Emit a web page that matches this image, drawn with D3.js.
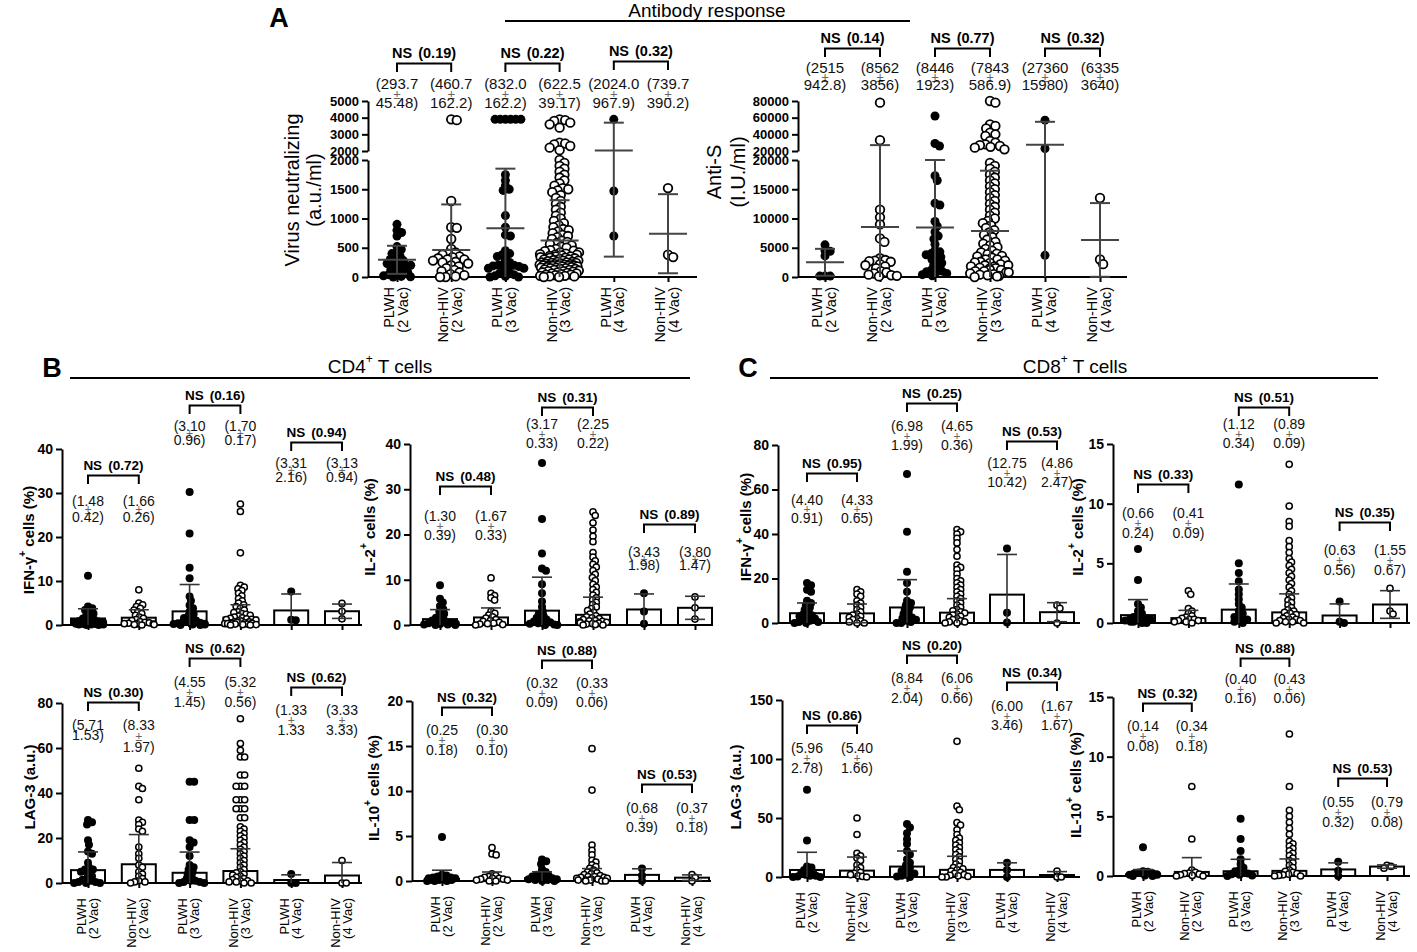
<!DOCTYPE html>
<html lang="en">
<head>
<meta charset="UTF-8">
<title>Antibody and T cell responses</title>
<style>
  body { margin: 0; background: #fff; }
  svg { font-family: "Liberation Sans", Arial, sans-serif; }
</style>
</head>
<body>
<div id="fig"></div>
<script src="https://d3js.org/d3.v7.min.js"></script>
<script>
var groups = [["PLWH", "(2 Vac)"], ["Non-HIV", "(2 Vac)"], ["PLWH", "(3 Vac)"],
              ["Non-HIV", "(3 Vac)"], ["PLWH", "(4 Vac)"], ["Non-HIV", "(4 Vac)"]];
var filled = [true, false, true, false, true, false];

// ---- A: virus neutralizing (a.u./ml)
var neutMeans = [293.7, 460.7, 832.0, 622.5, 2024.0, 739.7];
var neutSd = [240, 780, 1020, 690, 1676, 676];
var neutP = ["0.19", "0.22", "0.32"];
var neutL1 = ["(293.7", "(460.7", "(832.0", "(622.5", "(2024.0", "(739.7"];
var neutL2 = ["45.48)", "162.2)", "162.2)", "39.17)", "967.9)", "390.2)"];
var neutPts = [
  [900, 800, 760, 700, 520, 470, 420, 400, 350, 330, 300, 280, 250, 230, 220, 200, 200, 180, 150, 120, 100, 80, 60, 40, 20, 10, 5, 0],
  [3900, 3850, 1300, 850, 840, 650, 480, 420, 400, 380, 350, 340, 320, 300, 300, 280, 260, 250, 230, 200, 180, 150, 120, 100, 80, 50, 30, 10, 0, 0],
  [3900, 3900, 3900, 3900, 3900, 3900, 1750, 1650, 1560, 1500, 1480, 1050, 850, 720, 700, 450, 400, 380, 350, 300, 250, 220, 200, 200, 190, 180, 170, 150, 150, 100, 80, 60, 40, 20, 10, 0, 0],
  [3900, 3850, 3800, 3700, 3600, 3400, 2500, 2450, 2400, 2300, 2200, 2050, 2000, 1950, 1900, 1850, 1800, 1750, 1700, 1650, 1600, 1560, 1520, 1500, 1480, 1450, 1400, 1350, 1300, 1250, 1200, 1150, 1100, 1050, 1000, 960, 920, 880, 850, 820, 800, 780, 750, 720, 700, 680, 650, 620, 600, 580, 560, 540, 520, 500, 480, 460, 450, 440, 420, 400, 390, 380, 370, 360, 350, 340, 330, 320, 310, 300, 290, 280, 270, 260, 250, 240, 230, 220, 210, 200, 200, 190, 180, 170, 160, 150, 140, 130, 120, 110, 100, 90, 80, 70, 60, 50, 40, 30, 20, 10, 0,
   420, 380, 350, 330, 300, 280, 260, 250, 240, 230, 220, 210, 200, 200, 190, 180, 170, 160, 150, 140, 120, 100, 80, 60, 40, 20, 10, 0],
  [3900, 1470, 700],
  [1520, 380, 340]
];

// ---- A: anti-S (I.U./ml)
var antiMeans = [2515, 8562, 8446, 7843, 27360, 6335];
var antiSd = [2300, 18500, 11550, 10330, 27680, 6300];
var antiP = ["0.14", "0.77", "0.32"];
var antiL1 = ["(2515", "(8562", "(8446", "(7843", "(27360", "(6335"];
var antiL2 = ["942.8)", "3856)", "1923)", "586.9)", "15980)", "3640)"];
var antiPts = [
  [5500, 4500, 4400, 3600, 150, 150, 150],
  [78000, 33000, 11500, 10200, 9000, 6600, 6000, 3200, 2900, 2800, 2700, 2600, 2200, 2000, 1800, 1500, 1000, 800, 600, 400, 300, 200, 100],
  [62000, 29000, 26000, 17300, 16500, 12600, 12300, 9500, 8700, 7700, 7000, 6500, 5600, 4600, 4300, 4000, 3800, 3600, 3400, 3000, 2700, 2400, 2000, 1600, 1200, 1000, 900, 800, 600, 400, 200],
  [80000, 78000, 52000, 50000, 47000, 42000, 40000, 38000, 32000, 30000, 28000, 27000, 26000, 25000, 24000, 22000, 19500, 19000, 18500, 18000, 17500, 17000, 16500, 16000, 15500, 15000, 14500, 14000, 13500, 13000, 12500, 12000, 11500, 11000, 10500, 10000, 9600, 9200, 8800, 8400, 8000, 7600, 7200, 6800, 6400, 6000, 5700, 5400, 5100, 4800, 4500, 4200, 3900, 3600, 3300, 3000, 2800, 2600, 2400, 2200, 2000, 1800, 1600, 1400, 1200, 1000, 800, 600, 400, 200, 100, 0,
   4000, 3500, 3000, 2500, 2000, 1800, 1500, 1200, 1000, 800, 500, 300],
  [57000, 23000, 3700],
  [13500, 3000, 2200]
];

// ---- B: CD4+ IFN-gamma (%)
var ifn4Means = [1.48, 1.66, 3.10, 1.70, 3.31, 3.13];
var ifn4Sd = [2.2, 1.8, 6.1, 2.9, 3.74, 1.63];
var ifn4P = ["0.72", "0.16", "0.94"];
var ifn4L1 = ["(1.48", "(1.66", "(3.10", "(1.70", "(3.31", "(3.13"];
var ifn4L2 = ["0.42)", "0.26)", "0.96)", "0.17)", "2.16)", "0.94)"];
var ifn4Pts = [
  [11.2, 4.2, 3.8, 3.4, 3.0, 2.6, 2.2, 1.8, 1.5, 1.2, 1.0, 0.9, 0.8, 0.7, 0.6, 0.5, 0.4, 0.3, 0.3, 0.2, 0.2, 0.1, 0.1, 0.1, 0.0, 0.0],
  [8.0, 5.0, 4.6, 4.2, 3.8, 3.4, 3.0, 2.6, 2.2, 1.8, 1.5, 1.2, 1.0, 0.8, 0.6, 0.5, 0.4, 0.3, 0.2, 0.2, 0.1, 0.1, 0.0],
  [30.2, 20.8, 13.0, 10.6, 6.5, 5.5, 4.5, 3.8, 3.0, 2.5, 2.0, 1.6, 1.3, 1.0, 0.8, 0.6, 0.5, 0.4, 0.3, 0.2, 0.2, 0.1, 0.1, 0.0, 0.0],
  [27.5, 25.8, 16.4, 9.0, 8.6, 8.2, 7.8, 7.2, 6.6, 6.0, 5.5, 5.0, 4.6, 4.2, 3.8, 3.4, 3.0, 2.8, 2.6, 2.4, 2.2, 2.0, 1.8, 1.6, 1.5, 1.4, 1.3, 1.2, 1.1, 1.0, 0.9, 0.8, 0.7, 0.6, 0.5, 0.5, 0.4, 0.4, 0.3, 0.3, 0.2, 0.2, 0.1, 0.1, 0.0, 0.0],
  [7.6, 1.2, 1.1],
  [4.9, 3.1, 1.4]
];

// ---- B: CD4+ IL-2 (%)
var il24Means = [1.30, 1.67, 3.17, 2.25, 3.43, 3.80];
var il24Sd = [2.1, 2.1, 7.4, 3.9, 3.43, 2.55];
var il24P = ["0.48", "0.31", "0.89"];
var il24L1 = ["(1.30", "(1.67", "(3.17", "(2.25", "(3.43", "(3.80"];
var il24L2 = ["0.39)", "0.33)", "0.33)", "0.22)", "1.98)", "1.47)"];
var il24Pts = [
  [8.8, 5.8, 5.0, 4.2, 3.5, 3.0, 2.5, 2.0, 1.6, 1.3, 1.0, 0.8, 0.6, 0.5, 0.4, 0.3, 0.2, 0.2, 0.1, 0.1, 0.0, 0.0],
  [10.4, 7.0, 6.5, 6.0, 5.5, 3.0, 2.6, 2.2, 1.8, 1.5, 1.2, 1.0, 0.8, 0.6, 0.4, 0.3, 0.2, 0.1, 0.0],
  [35.8, 23.4, 15.8, 12.5, 12.0, 9.0, 7.0, 5.2, 4.0, 3.0, 2.5, 2.0, 1.6, 1.2, 1.0, 0.8, 0.6, 0.4, 0.3, 0.2, 0.1, 0.0, 0.0],
  [25.0, 24.2, 22.6, 21.0, 19.6, 18.4, 16.0, 15.0, 14.2, 13.4, 12.8, 12.0, 11.2, 10.5, 9.8, 9.0, 8.4, 7.8, 7.2, 6.6, 6.0, 5.5, 5.0, 4.5, 4.0, 3.6, 3.2, 2.8, 2.4, 2.0, 1.8, 1.6, 1.4, 1.2, 1.0, 0.9, 0.8, 0.7, 0.6, 0.5, 0.4, 0.3, 0.2, 0.1, 0.0, 0.0],
  [7.0, 3.0, 0.3],
  [6.2, 3.8, 1.3]
];

// ---- B: CD4+ LAG-3 (a.u.)
var lag4Means = [5.71, 8.33, 4.55, 5.32, 1.33, 3.33];
var lag4Sd = [8.1, 13.2, 9.2, 9.9, 2.3, 5.77];
var lag4P = ["0.30", "0.62", "0.62"];
var lag4L1 = ["(5.71", "(8.33", "(4.55", "(5.32", "(1.33", "(3.33"];
var lag4L2 = ["1.53)", "1.97)", "1.45)", "0.56)", "1.33", "3.33)"];
var lag4Pts = [
  [28, 27, 26, 19, 17, 14, 13, 9, 7, 6, 6, 5, 4, 3, 2, 1.5, 1, 0.5, 0.5, 0, 0, 0],
  [51, 43, 42, 37, 28, 27, 26, 24, 23, 16, 13, 11, 8, 7, 5, 4, 3, 2, 1, 0.5, 0.5, 0],
  [45, 45, 28, 28, 19, 18, 16, 12, 8, 7, 6, 5, 4, 3, 2, 1, 1, 0.5, 0.5, 0, 0],
  [73, 62, 59, 56, 56, 48, 48, 43, 43, 43, 37, 37, 37, 33, 33, 33, 29, 29, 25, 24, 23, 22, 21, 20, 19, 18, 17, 16, 15, 14, 13, 12, 11, 10, 9, 8, 7, 6, 5, 4.5, 4, 3.5, 3, 2.5, 2, 1.5, 1, 1, 0.5, 0.5, 0, 0],
  [4, 0, 0],
  [10, 0, 0]
];

// ---- B: CD4+ IL-10 (%)
var il104Means = [0.25, 0.30, 0.32, 0.33, 0.68, 0.37];
var il104Sd = [0.95, 0.7, 0.7, 1.05, 0.68, 0.31];
var il104P = ["0.32", "0.88", "0.53"];
var il104L1 = ["(0.25", "(0.30", "(0.32", "(0.33", "(0.68", "(0.37"];
var il104L2 = ["0.18)", "0.10)", "0.09)", "0.06)", "0.39)", "0.18)"];
var il104Pts = [
  [4.9, 0.7, 0.6, 0.5, 0.4, 0.4, 0.3, 0.3, 0.2, 0.2, 0.1, 0.1, 0.1, 0.0, 0.0, 0.0],
  [3.7, 3.0, 2.9, 0.8, 0.6, 0.5, 0.4, 0.3, 0.3, 0.2, 0.2, 0.1, 0.1, 0.0, 0.0],
  [2.4, 2.2, 1.9, 1.3, 1.0, 0.8, 0.7, 0.6, 0.5, 0.4, 0.3, 0.3, 0.2, 0.2, 0.1, 0.1, 0.0, 0.0],
  [14.7, 10.1, 4.0, 3.4, 2.9, 2.3, 2.1, 1.8, 1.6, 1.4, 1.2, 1.0, 0.9, 0.8, 0.7, 0.6, 0.5, 0.5, 0.4, 0.4, 0.3, 0.3, 0.2, 0.2, 0.1, 0.1, 0.1, 0.0, 0.0, 0.0],
  [1.4, 0.6, 0.04],
  [0.7, 0.4, 0.0]
];

// ---- C: CD8+ IFN-gamma (%)
var ifn8Means = [4.40, 4.33, 6.98, 4.65, 12.75, 4.86];
var ifn8Sd = [4.6, 4.2, 12.5, 6.3, 18.05, 4.28];
var ifn8P = ["0.95", "0.25", "0.53"];
var ifn8L1 = ["(4.40", "(4.33", "(6.98", "(4.65", "(12.75", "(4.86"];
var ifn8L2 = ["0.91)", "0.65)", "1.99)", "0.36)", "10.42)", "2.47)"];
var ifn8Pts = [
  [18, 17, 15, 14, 10, 9, 8, 7, 6, 5, 4, 3.5, 3, 2.5, 2, 1.5, 1, 0.5, 0.5, 0, 0],
  [15, 14, 13, 12, 10, 9, 8, 7, 6, 5, 4, 3.5, 3, 2.5, 2, 1.5, 1, 0.5, 0, 0],
  [67, 41, 23, 18, 14, 10, 9, 8, 7, 6, 5, 4, 3, 2.5, 2, 1.5, 1, 0.5, 0, 0],
  [42, 41, 40, 38, 36, 33, 30, 26, 25, 24, 22, 20, 19, 18, 17, 16, 15, 14, 13, 12, 11, 10, 9, 8, 7, 6, 5.5, 5, 4.5, 4, 3.5, 3, 2.5, 2, 1.5, 1, 0.5, 0.5, 0, 0],
  [33.5, 4.6, 0.2],
  [8.0, 6.6, 0.0]
];

// ---- C: CD8+ IL-2 (%)
var il28Means = [0.66, 0.41, 1.12, 0.89, 0.63, 1.55];
var il28Sd = [1.3, 0.65, 2.15, 1.55, 0.97, 1.16];
var il28P = ["0.33", "0.51", "0.35"];
var il28L1 = ["(0.66", "(0.41", "(1.12", "(0.89", "(0.63", "(1.55"];
var il28L2 = ["0.24)", "0.09)", "0.34)", "0.09)", "0.56)", "0.67)"];
var il28Pts = [
  [6.2, 3.6, 1.6, 1.3, 1.0, 0.8, 0.6, 0.5, 0.4, 0.4, 0.3, 0.3, 0.2, 0.2, 0.1, 0.1, 0.0, 0.0],
  [2.7, 2.4, 1.2, 1.0, 0.8, 0.6, 0.5, 0.4, 0.3, 0.3, 0.2, 0.2, 0.1, 0.1, 0.0],
  [11.6, 5.0, 4.2, 3.5, 2.8, 2.4, 2.0, 1.6, 1.3, 1.0, 0.8, 0.6, 0.5, 0.4, 0.3, 0.2, 0.1, 0.0],
  [13.3, 9.8, 8.5, 8.1, 6.9, 6.4, 5.9, 5.4, 5.1, 4.8, 4.5, 4.2, 3.9, 3.6, 3.3, 3.0, 2.7, 2.4, 2.1, 1.9, 1.7, 1.5, 1.3, 1.1, 1.0, 0.9, 0.8, 0.7, 0.6, 0.5, 0.4, 0.3, 0.3, 0.2, 0.2, 0.1, 0.1, 0.0, 0.0],
  [1.8, 0.1, 0.0],
  [2.9, 1.0, 0.75]
];

// ---- C: CD8+ LAG-3 (a.u.)
var lag8Means = [5.96, 5.40, 8.84, 6.06, 6.00, 1.67];
var lag8Sd = [15, 11.5, 13.2, 11.5, 6.0, 2.9];
var lag8P = ["0.86", "0.20", "0.34"];
var lag8L1 = ["(5.96", "(5.40", "(8.84", "(6.06", "(6.00", "(1.67"];
var lag8L2 = ["2.78)", "1.66)", "2.04)", "0.66)", "3.46)", "1.67)"];
var lag8Pts = [
  [74, 31, 9, 8, 6, 5, 4, 3, 2, 1, 1, 0.5, 0, 0],
  [50, 36, 20, 18, 16, 14, 10, 8, 6, 4, 3, 2, 1, 0.5, 0],
  [45, 42, 37, 32, 28, 22, 19, 15, 12, 10, 8, 6, 5, 4, 3, 2, 1, 0.5, 0],
  [115, 60, 57, 46, 44, 40, 36, 33, 31, 29, 27, 25, 23, 21, 19, 17, 15, 13, 11, 9, 8, 7, 6, 5, 4, 3, 2, 1.5, 1, 0.5, 0, 0],
  [12, 6, 0],
  [5, 0, 0]
];

// ---- C: CD8+ IL-10 (%)
var il108Means = [0.14, 0.34, 0.40, 0.43, 0.55, 0.79];
var il108Sd = [0.4, 1.2, 1.0, 1.0, 0.55, 0.14];
var il108P = ["0.32", "0.88", "0.53"];
var il108L1 = ["(0.14", "(0.34", "(0.40", "(0.43", "(0.55", "(0.79"];
var il108L2 = ["0.08)", "0.18)", "0.16)", "0.06)", "0.32)", "0.08)"];
var il108Pts = [
  [2.4, 0.4, 0.35, 0.3, 0.25, 0.2, 0.15, 0.1, 0.1, 0.05, 0.0, 0.0],
  [7.5, 3.1, 0.5, 0.3, 0.25, 0.2, 0.15, 0.1, 0.05, 0.0, 0.0],
  [4.8, 3.1, 2.1, 1.4, 1.0, 0.7, 0.5, 0.4, 0.3, 0.2, 0.15, 0.1, 0.05, 0.0],
  [11.9, 7.5, 5.5, 5.0, 4.5, 4.0, 3.5, 2.9, 2.7, 2.5, 2.3, 2.1, 1.9, 1.7, 1.5, 1.3, 1.1, 0.9, 0.7, 0.5, 0.4, 0.3, 0.2, 0.15, 0.1, 0.05, 0.0, 0.0],
  [1.2, 0.45, 0.0],
  [0.9, 0.8, 0.65]
];

var svg = d3.select('#fig').append('svg')
    .attr('width', 1417).attr('height', 952);

// y scale with a break: 0..brk on the lower segment, brk..max above the gap
function brokenScale(brk, max, base, brkLo, brkHi, top) {
    var lo = d3.scaleLinear().domain([0, brk]).range([base, brkLo]);
    var hi = d3.scaleLinear().domain([brk, max]).range([brkHi, top]);
    var f = function(v) { return v <= brk ? lo(v) : hi(v); };
    f.lo = lo; f.hi = hi;
    return f;
}

// simple beeswarm: nearest free horizontal slot inside the column
function swarm(vals, y, r, hw) {
    var d = r * 1.15;
    var order = vals.map(function(v) { return {v: v, py: y(v)}; })
        .sort(function(a, b) { return a.py - b.py; });
    var placed = [];
    order.forEach(function(p, k) {
        var cands = [0];
        placed.forEach(function(q) {
            var dy = Math.abs(q.py - p.py);
            if (dy < d) {
                var dx = Math.sqrt(d * d - dy * dy);
                cands.push(q.dx + dx, q.dx - dx);
            }
        });
        cands.sort(function(a, b) { return Math.abs(a) - Math.abs(b); });
        var best = null;
        for (var j = 0; j < cands.length; j++) {
            var c = cands[j];
            if (Math.abs(c) > hw) continue;
            var ok = placed.every(function(q) {
                var ddx = q.dx - c, ddy = q.py - p.py;
                return ddx * ddx + ddy * ddy >= d * d - 0.01;
            });
            if (ok) { best = c; break; }
        }
        if (best === null) best = ((k * 0.618) % 1 * 2 - 1) * hw;
        p.dx = best;
        placed.push(p);
    });
    return order;
}

function styleAxis(g, size) {
    g.select('.domain').attr('stroke', '#000').attr('stroke-width', 2);
    g.selectAll('.tick line').attr('stroke', '#000').attr('stroke-width', 2);
    g.selectAll('.tick text').attr('font-size', size).attr('font-weight', 'bold')
        .attr('fill', '#000').attr('font-family', '"Liberation Sans", Arial, sans-serif');
}

var fmt = d3.format('d');

function drawPanel(c) {
    var g = svg.append('g');
    var big = c.big;
    var x = d3.scalePoint().domain(d3.range(6)).range([c.c0, c.c1]);
    var y = c.y;
    var base = y(0);
    var tickSize = big ? 13 : 14;

    // y axis
    if (y.lo) {
        var gl = g.append('g').attr('transform', 'translate(' + c.x0 + ',0)')
            .call(d3.axisLeft(y.lo).tickValues(c.ticksLo).tickFormat(fmt).tickSize(6).tickSizeOuter(0).tickPadding(3));
        styleAxis(gl, tickSize);
        var gh = g.append('g').attr('transform', 'translate(' + c.x0 + ',0)')
            .call(d3.axisLeft(y.hi).tickValues(c.ticksHi).tickFormat(fmt).tickSize(6).tickSizeOuter(0).tickPadding(3));
        styleAxis(gh, tickSize);
    } else {
        var ga = g.append('g').attr('transform', 'translate(' + c.x0 + ',0)')
            .call(d3.axisLeft(y).tickValues(c.ticks).tickFormat(fmt).tickSize(6).tickSizeOuter(0).tickPadding(3));
        styleAxis(ga, tickSize);
    }

    // x axis
    var gx = g.append('g').attr('transform', 'translate(0,' + base + ')')
        .call(d3.axisBottom(x).tickSize(5).tickSizeOuter(0).tickFormat(''));
    gx.select('.domain').remove();
    styleAxis(gx, tickSize);
    g.append('line').attr('x1', c.x0).attr('x2', c.x1).attr('y1', base).attr('y2', base)
        .attr('stroke', '#000').attr('stroke-width', 2);

    // bars
    if (!big) {
        g.selectAll('rect.bar').data(c.means).enter().append('rect')
            .attr('x', function(d, i) { return x(i) - 17; })
            .attr('width', 34)
            .attr('y', function(d) { return y(d); })
            .attr('height', function(d) { return base - y(d); })
            .attr('fill', '#fff').attr('stroke', '#000').attr('stroke-width', 2);
    }

    // points
    var r = big ? 4.5 : 4;
    var ro = big ? 4.3 : 3.1;
    c.pts.forEach(function(vals, i) {
        var sw = swarm(vals, y, filled[i] ? r : ro + 0.6, big ? 20 : 16);
        g.append('g').selectAll('circle').data(sw).enter().append('circle')
            .attr('cx', function(d) { return x(i) + d.dx; })
            .attr('cy', function(d) { return d.py; })
            .attr('r', filled[i] ? r : ro)
            .attr('fill', filled[i] ? '#000' : '#fff')
            .attr('stroke', '#000')
            .attr('stroke-width', filled[i] ? 0 : (big ? 1.8 : 1.5));
    });

    // mean and SD
    var eb = g.append('g').attr('stroke', big ? '#444' : '#333').attr('stroke-width', big ? 2 : 1.6);
    c.means.forEach(function(m, i) {
        var cx = x(i);
        var hiV = m + c.sd[i], loV = Math.max(0, m - c.sd[i]);
        eb.append('line').attr('x1', cx).attr('x2', cx).attr('y1', y(hiV)).attr('y2', y(loV));
        eb.append('line').attr('x1', cx - 10).attr('x2', cx + 10).attr('y1', y(hiV)).attr('y2', y(hiV));
        if (m - c.sd[i] > 0) {
            eb.append('line').attr('x1', cx - 10).attr('x2', cx + 10).attr('y1', y(loV)).attr('y2', y(loV));
        }
        if (big) {
            eb.append('line').attr('x1', cx - 19).attr('x2', cx + 19).attr('y1', y(m)).attr('y2', y(m));
        }
    });

    // NS brackets
    var nsSize = big ? 14.5 : 13.5;
    c.p.forEach(function(p, k) {
        var xa = x(2 * k), xb = x(2 * k + 1), ny = c.nsY[k];
        g.append('path')
            .attr('d', 'M' + xa + ',' + (ny + 19) + 'V' + (ny + 10.5) + 'H' + xb + 'V' + (ny + 19))
            .attr('fill', 'none').attr('stroke', '#000').attr('stroke-width', 2);
        var t = g.append('text').attr('x', (xa + xb) / 2).attr('y', ny)
            .attr('text-anchor', 'middle').attr('dominant-baseline', 'central')
            .attr('font-size', nsSize).attr('font-weight', 'bold');
        t.append('tspan').text('NS');
        t.append('tspan').attr('dx', 6).text('(' + p + ')');
    });

    // mean +/- SEM labels: one text per group, stacked tspans
    var labSize = big ? 15 : 14;
    c.l1.forEach(function(s, i) {
        var cx = x(i);
        var t = g.append('text').attr('text-anchor', 'middle')
            .attr('dominant-baseline', 'central').attr('font-size', labSize).attr('fill', '#111');
        t.append('tspan').attr('x', cx).attr('y', c.l1Y[i]).text(s);
        if (!(c.noPm && c.noPm[i])) {
            t.append('tspan').attr('x', cx).attr('y', (c.l1Y[i] + c.l2Y[i]) / 2 + 1)
                .attr('font-size', big ? 13 : 12).attr('fill', '#666').text('±');
        }
        t.append('tspan').attr('x', cx).attr('y', c.l2Y[i]).text(c.l2[i]);
    });

    // x labels (rotated)
    if (c.xTop) {
        var xs = big ? 14.5 : 13;
        groups.forEach(function(gr, i) {
            var lg = g.append('g').attr('transform', 'translate(' + x(i) + ',' + c.xTop + ') rotate(-90)');
            lg.append('text').attr('x', 0).attr('y', big ? -3 : -2.5).attr('text-anchor', 'end')
                .attr('font-size', xs).text(gr[0]);
            lg.append('text').attr('x', 0).attr('y', big ? 10.5 : 9.5).attr('text-anchor', 'end')
                .attr('font-size', xs).text(gr[1]);
        });
    }

    // y title
    var tg = g.append('g').attr('transform', 'translate(' + c.tx + ',' + c.ty + ') rotate(-90)');
    if (big) {
        c.title.forEach(function(line, j) {
            tg.append('text').attr('x', 0).attr('y', j * c.tGap).attr('text-anchor', 'middle')
                .attr('dominant-baseline', 'central').attr('font-size', 20).text(line);
        });
    } else {
        var tt = tg.append('text').attr('x', 0).attr('y', 0).attr('text-anchor', 'middle')
            .attr('dominant-baseline', 'central').attr('font-size', 15).attr('font-weight', 'bold');
        tt.append('tspan').text(c.title[0]);
        if (c.title.length > 1) {
            tt.append('tspan').attr('baseline-shift', 'super').attr('font-size', 10).text(c.title[1]);
            tt.append('tspan').text(c.title[2]);
        }
    }
}

function rep(v) { return [v, v, v, v, v, v]; }

// ---- panel A
drawPanel({big: true, x0: 368, x1: 697, c0: 397, c1: 668,
    y: brokenScale(2000, 5000, 277, 160, 151, 101),
    ticksLo: [0, 500, 1000, 1500, 2000], ticksHi: [2000, 3000, 4000, 5000],
    means: neutMeans, sd: neutSd, pts: neutPts, p: neutP, l1: neutL1, l2: neutL2,
    nsY: [53, 53, 51], l1Y: rep(83), l2Y: rep(102), xTop: 287,
    title: ['Virus neutralizing', '(a.u./ml)'], tx: 292, ty: 190, tGap: 22});

drawPanel({big: true, x0: 798, x1: 1127, c0: 825, c1: 1100,
    y: brokenScale(20000, 80000, 277, 160, 151, 101),
    ticksLo: [0, 5000, 10000, 15000, 20000], ticksHi: [20000, 40000, 60000, 80000],
    means: antiMeans, sd: antiSd, pts: antiPts, p: antiP, l1: antiL1, l2: antiL2,
    nsY: [38, 38, 38], l1Y: rep(67), l2Y: rep(84), xTop: 287,
    title: ['Anti-S', '(I.U./ml)'], tx: 714, ty: 172, tGap: 24});

// ---- panel B
drawPanel({x0: 62, x1: 362, c0: 88, c1: 342,
    y: d3.scaleLinear().domain([0, 40]).range([625, 449]), ticks: [0, 10, 20, 30, 40],
    means: ifn4Means, sd: ifn4Sd, pts: ifn4Pts, p: ifn4P, l1: ifn4L1, l2: ifn4L2,
    nsY: [465, 395, 432], l1Y: [501, 501, 426, 426, 463, 463], l2Y: [517, 517, 440, 440, 477, 477],
    title: ['IFN-γ', '+', ' cells (%)'], tx: 28, ty: 540});

drawPanel({x0: 410, x1: 711, c0: 440, c1: 695,
    y: d3.scaleLinear().domain([0, 40]).range([625, 444]), ticks: [0, 10, 20, 30, 40],
    means: il24Means, sd: il24Sd, pts: il24Pts, p: il24P, l1: il24L1, l2: il24L2,
    nsY: [476, 397, 514], l1Y: [516, 516, 424, 424, 552, 552], l2Y: [535, 535, 443, 443, 565, 565],
    title: ['IL-2', '+', ' cells (%)'], tx: 369, ty: 527});

drawPanel({x0: 62, x1: 362, c0: 88, c1: 342,
    y: d3.scaleLinear().domain([0, 80]).range([883, 703]), ticks: [0, 20, 40, 60, 80],
    means: lag4Means, sd: lag4Sd, pts: lag4Pts, p: lag4P, l1: lag4L1, l2: lag4L2,
    nsY: [692, 648, 677], l1Y: [725, 725, 682, 682, 710, 710], l2Y: [735, 747, 702, 702, 730, 730],
    noPm: [true, false, false, false, false, false], xTop: 898,
    title: ['LAG-3 (a.u.)'], tx: 29, ty: 787});

drawPanel({x0: 412, x1: 711, c0: 442, c1: 692,
    y: d3.scaleLinear().domain([0, 20]).range([881, 701]), ticks: [0, 5, 10, 15, 20],
    means: il104Means, sd: il104Sd, pts: il104Pts, p: il104P, l1: il104L1, l2: il104L2,
    nsY: [697, 650, 774], l1Y: [730, 730, 683, 683, 808, 808], l2Y: [750, 750, 702, 702, 827, 827],
    xTop: 896,
    title: ['IL-10', '+', ' cells (%)'], tx: 373, ty: 788});

// ---- panel C
drawPanel({x0: 778, x1: 1080, c0: 807, c1: 1057,
    y: d3.scaleLinear().domain([0, 80]).range([623, 445]), ticks: [0, 20, 40, 60, 80],
    means: ifn8Means, sd: ifn8Sd, pts: ifn8Pts, p: ifn8P, l1: ifn8L1, l2: ifn8L2,
    nsY: [463, 393, 431], l1Y: [500, 500, 426, 426, 463, 463], l2Y: [518, 518, 445, 445, 482, 482],
    title: ['IFN-γ', '+', ' cells (%)'], tx: 745, ty: 527});

drawPanel({x0: 1113, x1: 1410, c0: 1138, c1: 1390,
    y: d3.scaleLinear().domain([0, 15]).range([623, 444]), ticks: [0, 5, 10, 15],
    means: il28Means, sd: il28Sd, pts: il28Pts, p: il28P, l1: il28L1, l2: il28L2,
    nsY: [474, 397, 512], l1Y: [513, 513, 424, 424, 550, 550], l2Y: [533, 533, 443, 443, 570, 570],
    title: ['IL-2', '+', ' cells (%)'], tx: 1077, ty: 527});

drawPanel({x0: 782, x1: 1080, c0: 807, c1: 1057,
    y: d3.scaleLinear().domain([0, 150]).range([877, 700]), ticks: [0, 50, 100, 150],
    means: lag8Means, sd: lag8Sd, pts: lag8Pts, p: lag8P, l1: lag8L1, l2: lag8L2,
    nsY: [715, 645, 672], l1Y: [748, 748, 678, 678, 706, 706], l2Y: [768, 768, 698, 698, 725, 725],
    xTop: 892,
    title: ['LAG-3 (a.u.)'], tx: 735, ty: 787});

drawPanel({x0: 1113, x1: 1410, c0: 1143, c1: 1387,
    y: d3.scaleLinear().domain([0, 15]).range([876, 697]), ticks: [0, 5, 10, 15],
    means: il108Means, sd: il108Sd, pts: il108Pts, p: il108P, l1: il108L1, l2: il108L2,
    nsY: [693, 648, 768], l1Y: [726, 726, 679, 679, 802, 802], l2Y: [746, 746, 698, 698, 822, 822],
    xTop: 891,
    title: ['IL-10', '+', ' cells (%)'], tx: 1075, ty: 785});

// ---- panel letters and section headers
function header(letter, lx, ly, title, sup, rest, tx, l0, l1) {
    svg.append('text').attr('x', lx).attr('y', ly).attr('text-anchor', 'middle')
        .attr('dominant-baseline', 'central').attr('font-size', 27).attr('font-weight', 'bold')
        .text(letter);
    if (title) {
        var t = svg.append('text').attr('x', tx).attr('y', 366).attr('text-anchor', 'middle')
            .attr('dominant-baseline', 'central').attr('font-size', 19);
        t.append('tspan').text(title);
        t.append('tspan').attr('baseline-shift', 'super').attr('font-size', 12).text(sup);
        t.append('tspan').text(rest);
        svg.append('line').attr('x1', l0).attr('x2', l1).attr('y1', 378).attr('y2', 378)
            .attr('stroke', '#000').attr('stroke-width', 2);
    }
}
header('A', 279, 18);
svg.append('text').attr('x', 707).attr('y', 10).attr('text-anchor', 'middle')
    .attr('dominant-baseline', 'central').attr('font-size', 19).text('Antibody response');
svg.append('line').attr('x1', 505).attr('x2', 910).attr('y1', 21).attr('y2', 21)
    .attr('stroke', '#000').attr('stroke-width', 2);
header('B', 52, 368, 'CD4', '+', ' T cells', 380, 70, 690);
header('C', 748, 368, 'CD8', '+', ' T cells', 1075, 770, 1378);
</script>
</body>
</html>
